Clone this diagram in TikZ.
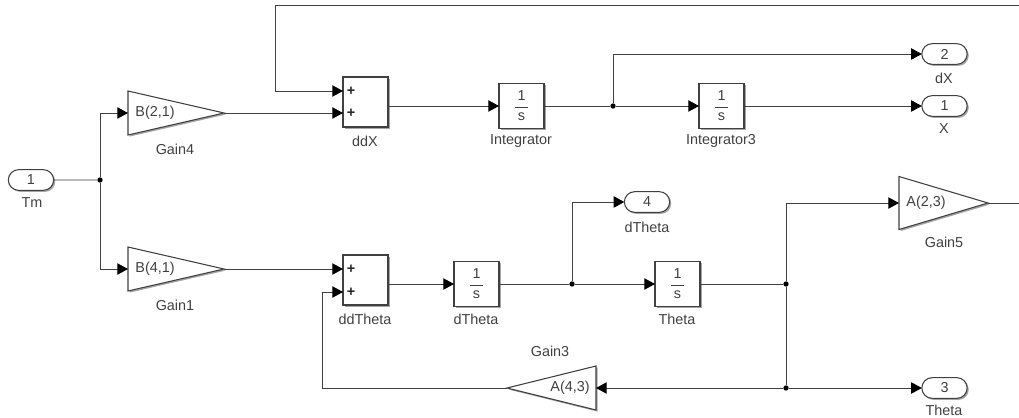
\documentclass[tikz,border=0pt]{standalone}
\usepackage{fontspec}
\setmainfont{Liberation Sans}
\setsansfont{Liberation Sans}
\usetikzlibrary{shapes.geometric, shapes.misc, arrows.meta, shadows}

\tikzset{
    blockshadow/.style={drop shadow={shadow xshift=1.2pt, shadow yshift=-1.2pt, opacity=0.35, fill=black}},
    wire/.style={draw=black!75, line width=0.7pt},
    arrowwire/.style={wire, -{Triangle[length=8pt, width=8.5pt, color=black]}},
    sumblock/.style={draw=black!75, line width=0.8pt, fill=white, blockshadow, minimum width=33.75pt, minimum height=37.5pt, inner sep=0pt, outer sep=0pt},
    intblock/.style={draw=black!75, line width=0.8pt, fill=white, blockshadow, minimum width=33.75pt, minimum height=33.75pt, inner sep=0pt, outer sep=0pt, font=\fontsize{10.8}{12}\selectfont, text=black!75},
    gainblock/.style 2 args={isosceles triangle, isosceles triangle stretches, draw=black!75, line width=0.8pt, fill=white, blockshadow, minimum width=#1*0.75pt, minimum height=#2*0.75pt, inner sep=0pt, outer sep=0pt},
    portblock/.style={rounded rectangle, draw=black!75, line width=0.8pt, fill=white, blockshadow, minimum width=34pt, minimum height=15.5pt, inner sep=0pt, outer sep=0pt, font=\fontsize{10.8}{12}\selectfont, text=black!75},
    txt/.style={inner sep=0pt, font=\fontsize{10.8}{12}\selectfont, text=black!75},
    plus/.style={inner sep=0pt, font=\bfseries\fontsize{10.8}{12}\selectfont, text=black!85},
    junction/.style={circle, fill=black, minimum size=4pt, inner sep=0pt},
}

\newcommand{\oneovers}{$\displaystyle\frac{\,\mathsf{1}\,}{\,\mathsf{s}\,}$}

\begin{document}
\begin{tikzpicture}[x=0.75pt, y=-0.75pt]
    \useasboundingbox (0, 0) rectangle (1019, 417);

    % blocks
    \node[portblock] (tm) at (31, 180) {1};
    \node[gainblock={44}{96}, anchor=apex] (gain4) at (224, 113) {};
    \node[gainblock={44}{96}, anchor=apex] (gain1) at (224, 269) {};
    \node[sumblock] (ddx) at (365.5, 102) {};
    \node[sumblock] (ddtheta) at (365.5, 280) {};
    \node[intblock] (integrator) at (521.5, 106) {\oneovers};
    \node[intblock] (integrator3) at (721.5, 106) {\oneovers};
    \node[intblock] (dtheta) at (476.5, 284) {\oneovers};
    \node[intblock] (theta) at (677.5, 284) {\oneovers};
    \node[gainblock={53}{89}, anchor=apex] (gain5) at (988, 203) {};
    \node[gainblock={44}{89}, shape border rotate=180, anchor=apex] (gain3) at (507, 388) {};
    \node[portblock] (outdx) at (944.5, 54) {2};
    \node[portblock] (outx) at (944.5, 106) {1};
    \node[portblock] (outdtheta) at (647, 202) {4};
    \node[portblock] (outtheta) at (944.5, 388) {3};

    % texts
    \node[txt] (tgain4) at (155, 113) {B(2,1)};
    \node[txt] (tgain1) at (155, 269) {B(4,1)};
    \node[txt] (tgain5) at (926, 203) {A(2,3)};
    \node[txt] (tgain3) at (570, 388) {A(4,3)};
    \node[plus] (pddxa) at (351, 91) {+};
    \node[plus] (pddxb) at (351, 113) {+};
    \node[plus] (pddthetaa) at (351, 269) {+};
    \node[plus] (pddthetab) at (351, 292) {+};
    \node[txt] (ltm) at (32, 203) {Tm};
    \node[txt] (lgain4) at (175, 149) {Gain4};
    \node[txt] (lgain1) at (175, 305) {Gain1};
    \node[txt] (lddx) at (365, 141) {ddX};
    \node[txt] (lintegrator) at (521, 141) {Integrator};
    \node[txt] (lintegrator3) at (721, 141) {Integrator3};
    \node[txt] (ldx) at (944, 78) {dX};
    \node[txt] (lx) at (944, 129) {X};
    \node[txt] (ldtheta) at (647, 227) {dTheta};
    \node[txt] (lgain5) at (944, 242) {Gain5};
    \node[txt] (lddtheta) at (365, 319) {ddTheta};
    \node[txt] (ldtheta2) at (476, 319) {dTheta};
    \node[txt] (ltheta) at (677, 319) {Theta};
    \node[txt] (lgain3) at (550, 351) {Gain3};
    \node[txt] (ltheta2) at (944, 410) {Theta};

    % junctions and free ends
    \node[junction] (jtm) at (100, 180) {};
    \node[junction] (jx) at (613, 106) {};
    \node[junction] (jdtheta) at (572, 284) {};
    \node[junction] (jtheta) at (786, 284) {};
    \node[junction] (jtheta2) at (786, 388) {};
    \coordinate (ddxa) at (343, 91);
    \coordinate (ddxb) at (343, 113);
    \coordinate (ddthetaa) at (343, 269);
    \coordinate (ddthetab) at (343, 292);
    \coordinate (endx) at (1019, 5);
    \coordinate (endtheta) at (1019, 203);
    \coordinate (cornerx) at (275, 5);
    \coordinate (cornerfb) at (322, 388);

    % connectors
    \draw[wire] (tm) -- (jtm);
    \draw[arrowwire] (jtm) |- (gain4.west);
    \draw[arrowwire] (jtm) |- (gain1.west);
    \draw[arrowwire] (gain4.apex) -- (ddxb);
    \draw[arrowwire] (gain1.apex) -- (ddthetaa);
    \draw[arrowwire] (endx) -- (cornerx) |- (ddxa);
    \draw[arrowwire] (ddx.east |- integrator) -- (integrator);
    \draw[wire] (integrator) -- (jx);
    \draw[arrowwire] (jx) -- (integrator3);
    \draw[arrowwire] (jx) |- (outdx);
    \draw[arrowwire] (integrator3) -- (outx);
    \draw[arrowwire] (ddtheta.east |- dtheta) -- (dtheta);
    \draw[wire] (dtheta) -- (jdtheta);
    \draw[arrowwire] (jdtheta) -- (theta);
    \draw[arrowwire] (jdtheta) |- (outdtheta);
    \draw[wire] (theta) -- (jtheta);
    \draw[wire] (jtheta) -- (jtheta2);
    \draw[arrowwire] (jtheta) |- (gain5.west);
    \draw[arrowwire] (jtheta2) -- (outtheta);
    \draw[arrowwire] (jtheta2) -- (gain3.east);
    \draw[arrowwire] (gain3.apex) -- (cornerfb) |- (ddthetab);
    \draw[wire] (gain5.apex) -- (endtheta);
\end{tikzpicture}
\end{document}
